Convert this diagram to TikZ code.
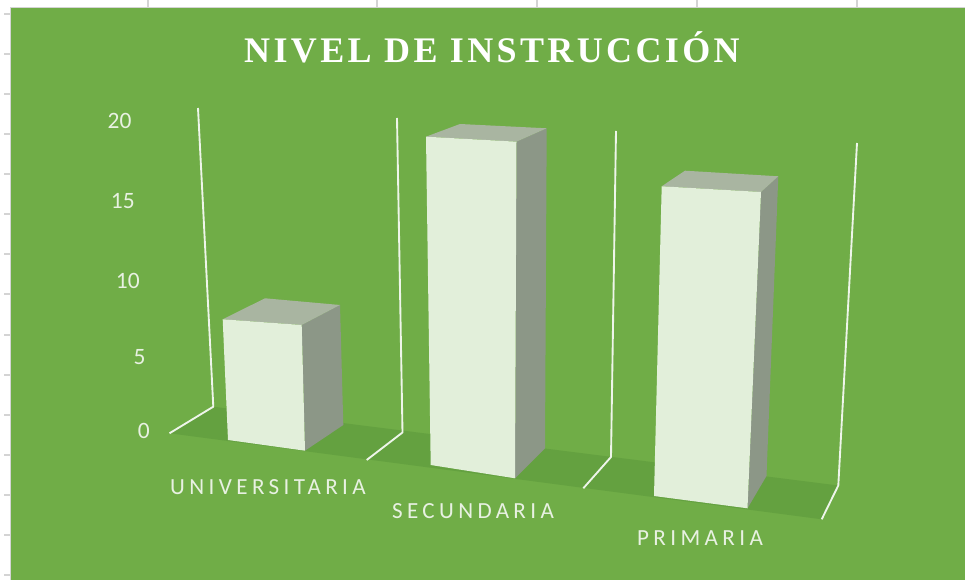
\documentclass[tikz,border=0pt]{standalone}
\usepackage{fontspec}
\newfontfamily\titlefont[LetterSpace=9.4]{Liberation Serif}
\newfontfamily\lblfont[LetterSpace=19]{Carlito}
\newfontfamily\numfont{Carlito}
\definecolor{bggreen}{HTML}{70AD47}
\definecolor{floorgreen}{HTML}{64A140}
\definecolor{barfront}{HTML}{E2EFDA}
\definecolor{bartop}{HTML}{A9B5A1}
\definecolor{barside}{HTML}{8C9787}
\definecolor{wallline}{HTML}{EEF5EA}
\definecolor{txtcol}{HTML}{E8F1E2}
\definecolor{gridgray}{HTML}{D4D4D4}
\tikzset{
  frontface/.style={fill=barfront,draw=none},
  topface/.style={fill=bartop,draw=none},
  sideface/.style={fill=barside,draw=none},
  wall/.style={draw=wallline,line width=1.4,line join=round},
  cattext/.style={text=txtcol,font=\lblfont\fontsize{17.3}{20}\selectfont,anchor=base,inner sep=0},
  numtext/.style={text=txtcol,font=\numfont\fontsize{17.6}{20}\selectfont,anchor=base east,inner sep=0},
  sheettick/.style={draw=gridgray,line width=1}
}
\begin{document}
\begin{tikzpicture}[x=0.75pt,y=-0.75pt]
\useasboundingbox (0,0) rectangle (965,580);
% sheet ticks and border
\foreach \yy in {14,54,94,134,174,214,254,294,335,375,415,455,495,535,575}
  \draw[sheettick] (4,\yy) -- (10.5,\yy);
\foreach \xx in {148,377,537,697,857}
  \draw[sheettick] (\xx,0) -- (\xx,7.5);
\fill[bggreen] (11,8) rectangle (965,580);
\draw[sheettick] (10.5,580) -- (10.5,7.5) -- (965,7.5);
% floor
\fill[floorgreen] (169.5,433.3) -- (213.3,406.7) -- (838.3,485.5) -- (821.7,519.3) -- cycle;
% walls
\coordinate (w1t) at (198,108); \coordinate (w1b) at (213.3,406.7); \coordinate (w1f) at (169.5,433.3);
\coordinate (w2t) at (397,118); \coordinate (w2b) at (402.5,432.5); \coordinate (w2f) at (366.7,460);
\coordinate (w3t) at (616,131); \coordinate (w3b) at (611,457); \coordinate (w3f) at (583.3,488.3);
\coordinate (w4t) at (857,143); \coordinate (w4b) at (838.3,485.5); \coordinate (w4f) at (821.7,519.3);
\draw[wall] (w1t) -- (w1b) -- (w1f);
\draw[wall] (w2t) -- (w2b) -- (w2f);
\draw[wall] (w3t) -- (w3b) -- (w3f);
\draw[wall] (w4t) -- (w4b) -- (w4f);
% bar 1 (UNIVERSITARIA)
\fill[sideface] (301.7,325) -- (340,305) -- (343.3,425) -- (305,450.7) -- cycle;
\fill[topface] (222.7,319.3) -- (265,298.3) -- (340,305) -- (301.7,325) -- cycle;
\fill[frontface] (222.7,319.3) -- (301.7,325) -- (305,450.7) -- (228,440) -- cycle;
% bar 2 (SECUNDARIA)
\fill[sideface] (516.5,141.7) -- (546.7,128.3) -- (545,448.3) -- (515,478.3) -- cycle;
\fill[topface] (426,136.7) -- (460,124) -- (546.7,128.3) -- (516.5,141.7) -- cycle;
\fill[frontface] (426,136.7) -- (516.5,141.7) -- (515,478.3) -- (430.7,465) -- cycle;
% bar 3 (PRIMARIA)
\fill[sideface] (761,192) -- (778.3,176.3) -- (766.5,476) -- (747.5,508.3) -- cycle;
\fill[topface] (661.7,186.3) -- (685,170.7) -- (778.3,176.3) -- (761,192) -- cycle;
\fill[frontface] (661.7,186.3) -- (761,192) -- (747.5,508.3) -- (654,496) -- cycle;
% title
\node[text=white,font=\titlefont\bfseries\fontsize{27}{30}\selectfont,anchor=base,inner sep=0] (title) at (492,62.3) {NIVEL DE INSTRUCCIÓN};
% axis numbers
\node[numtext] (n20) at (131.7,128.3) {20};
\node[numtext] (n15) at (135,208.3) {15};
\node[numtext] (n10) at (140,288.3) {10};
\node[numtext] (n5) at (145.7,365) {5};
\node[numtext] (n0) at (150,438.3) {0};
% categories
\node[cattext] (c1) at (268,494.3) {UNIVERSITARIA};
\node[cattext] (c2) at (473,518.3) {SECUNDARIA};
\node[cattext] (c3) at (700,546) {PRIMARIA};
\end{tikzpicture}
\end{document}
